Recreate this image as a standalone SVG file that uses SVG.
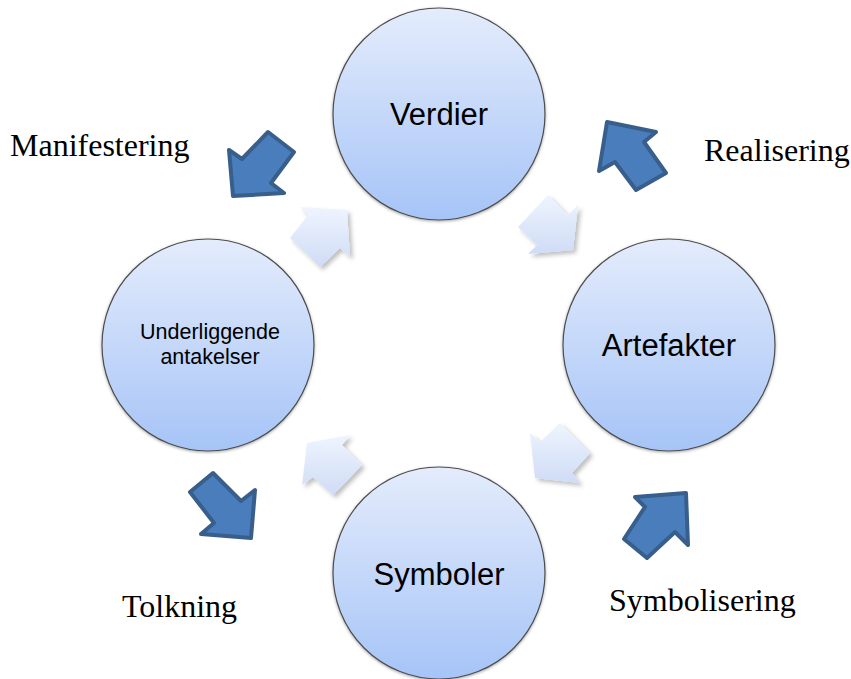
<svg xmlns="http://www.w3.org/2000/svg" width="851" height="679" viewBox="0 0 851 679">
  <defs>
    <linearGradient id="circGrad" x1="0" y1="0" x2="0" y2="1">
      <stop offset="0" stop-color="#e4ecfc"/>
      <stop offset="1" stop-color="#a6c4f7"/>
    </linearGradient>
    <linearGradient id="lightGrad" x1="0" y1="0" x2="0" y2="1">
      <stop offset="0" stop-color="#eff4fe"/>
      <stop offset="1" stop-color="#cfdcf6"/>
    </linearGradient>
    <filter id="circShadow" x="-10%" y="-10%" width="120%" height="120%">
      <feDropShadow dx="0" dy="1" stdDeviation="1.5" flood-color="#000" flood-opacity="0.35"/>
    </filter>
    <filter id="arrowShadow" x="-20%" y="-20%" width="150%" height="150%">
      <feDropShadow dx="3" dy="3" stdDeviation="2" flood-color="#000" flood-opacity="0.25"/>
    </filter>
  </defs>
  <style>
    .circle { fill: url(#circGrad); stroke: #4d4d4d; stroke-width: 1.2; filter: url(#circShadow); }
    .light { fill: url(#lightGrad); stroke: none; filter: url(#arrowShadow); }
    .dark { fill: #4a7dbb; stroke: #385e8c; stroke-width: 4; stroke-linejoin: round; }
    .ntext { font-family: "Liberation Sans", Arial, sans-serif; fill: #000; text-anchor: middle; }
    .label { font-family: "Liberation Serif", "Times New Roman", serif; font-size: 32px; fill: #000; }
  </style>
  <rect width="851" height="679" fill="#ffffff"/>

  <g id="connectors">
    <polygon class="light" points="347,210 300,207 308,215 290,238 320,267 340,248 350,257"/>
    <polygon class="light" points="573,250 528,254 537,245 518,227 548,195 568,215 578,205"/>
    <polygon class="light" points="535,478 530,433 540,442 560,423 590,453 572,473 580,483"/>
    <polygon class="light" points="307,443 350,435 342,445 362,465 333,495 313,477 302,485"/>

    <polygon class="dark" points="233,196 229,150 242,159 268,132 294,152 271,183 284,193"/>
    <polygon class="dark" points="607,122 656,132 644,142 666,173 636,190 615,162 599,171"/>
    <polygon class="dark" points="686,493 635,497 645,507 624,539 647,558 675,532 688,545"/>
    <polygon class="dark" points="251,538 201,534 214,523 190,492 213,473 241,501 255,490"/>
  </g>

  <g id="node-verdier">
    <circle class="circle" cx="439" cy="114" r="106"/>
    <text class="ntext" x="439" y="125" font-size="31">Verdier</text>
  </g>
  <g id="node-artefakter">
    <circle class="circle" cx="669" cy="345" r="106"/>
    <text class="ntext" x="669" y="356" font-size="31">Artefakter</text>
  </g>
  <g id="node-symboler">
    <circle class="circle" cx="439" cy="573" r="106"/>
    <text class="ntext" x="439" y="585" font-size="31">Symboler</text>
  </g>
  <g id="node-underliggende">
    <circle class="circle" cx="208" cy="345" r="106"/>
    <text class="ntext" x="210" y="339" font-size="21.5">Underliggende</text>
    <text class="ntext" x="210" y="364" font-size="21.5">antakelser</text>
  </g>

  <g id="labels">
    <text class="label" x="10" y="156">Manifestering</text>
    <text class="label" x="704" y="161">Realisering</text>
    <text class="label" x="122" y="617">Tolkning</text>
    <text class="label" x="609" y="611">Symbolisering</text>
  </g>
</svg>
